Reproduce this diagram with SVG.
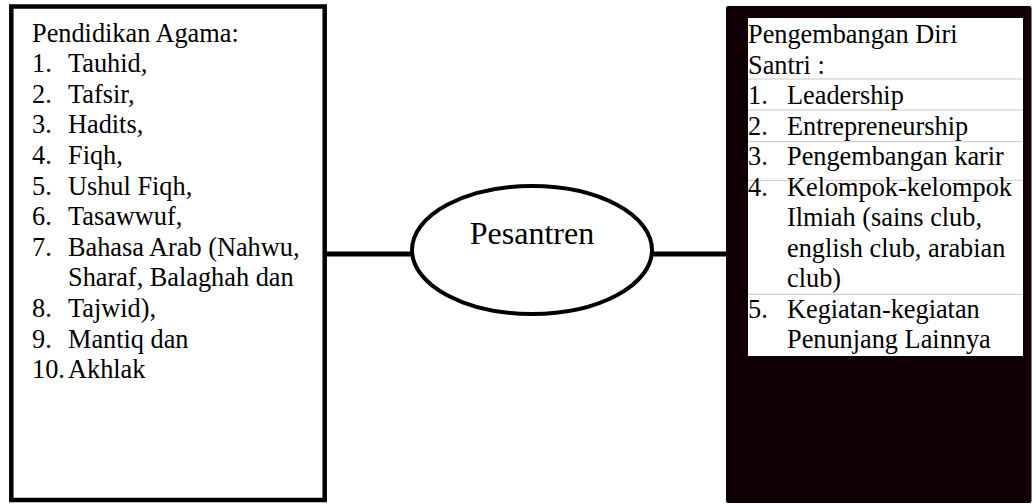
<svg xmlns="http://www.w3.org/2000/svg" width="1032" height="504" viewBox="0 0 1032 504">
<style>
.t{font-family:"Liberation Serif","Times New Roman",serif;font-size:26.3px;fill:#000}
.sep{stroke:#c8c8c8;stroke-width:1}
</style>
<rect width="1032" height="504" fill="#fff"/>
<g id="connectors" stroke="#000" stroke-width="5" fill="none">
<line x1="326" y1="254" x2="411" y2="254"/>
<line x1="653" y1="254" x2="727" y2="254"/>
</g>
<g id="pendidikan-agama">
<rect x="11.3" y="6.5" width="313.4" height="493.5" fill="#fff" stroke="#000" stroke-width="4.5"/>
<text class="t" x="32" y="41.5">Pendidikan Agama:</text>
<text class="t" x="32" y="72.1">1.</text><text class="t" x="68" y="72.1">Tauhid,</text>
<text class="t" x="32" y="102.7">2.</text><text class="t" x="68" y="102.7">Tafsir,</text>
<text class="t" x="32" y="133.3">3.</text><text class="t" x="68" y="133.3">Hadits,</text>
<text class="t" x="32" y="163.9">4.</text><text class="t" x="68" y="163.9">Fiqh,</text>
<text class="t" x="32" y="194.5">5.</text><text class="t" x="68" y="194.5">Ushul Fiqh,</text>
<text class="t" x="32" y="225.1">6.</text><text class="t" x="68" y="225.1">Tasawwuf,</text>
<text class="t" x="32" y="255.7">7.</text><text class="t" x="68" y="255.7">Bahasa Arab (Nahwu,</text>
<text class="t" x="68" y="286.3">Sharaf, Balaghah dan</text>
<text class="t" x="32" y="316.9">8.</text><text class="t" x="68" y="316.9">Tajwid),</text>
<text class="t" x="32" y="347.5">9.</text><text class="t" x="68" y="347.5">Mantiq dan</text>
<text class="t" x="32" y="378.1">10.</text><text class="t" x="68" y="378.1">Akhlak</text>
</g>
<g id="pesantren">
<ellipse cx="532" cy="250" rx="120" ry="64" fill="#fff" stroke="#000" stroke-width="4"/>
<text x="532" y="244" text-anchor="middle" style="font-family:'Liberation Serif','Times New Roman',serif;font-size:32px;fill:#000">Pesantren</text>
</g>
<g id="pengembangan-diri">
<rect x="726" y="6" width="305.5" height="497" rx="2" fill="#110003"/>
<rect x="748" y="18" width="275" height="338" fill="#fff"/>
<line class="sep" x1="748" y1="79" x2="1023" y2="79"/>
<line class="sep" x1="748" y1="110" x2="1023" y2="110"/>
<line class="sep" x1="748" y1="141.7" x2="1023" y2="141.7"/>
<line class="sep" x1="748" y1="180.3" x2="1023" y2="180.3"/>
<line class="sep" x1="748" y1="294.3" x2="1023" y2="294.3"/>
<text class="t" x="748" y="43">Pengembangan Diri</text>
<text class="t" x="748" y="73.5">Santri :</text>
<text class="t" x="748" y="104">1.</text><text class="t" x="787" y="104">Leadership</text>
<text class="t" x="748" y="134.5">2.</text><text class="t" x="787" y="134.5">Entrepreneurship</text>
<text class="t" x="748" y="165">3.</text><text class="t" x="787" y="165">Pengembangan karir</text>
<text class="t" x="748" y="195.5">4.</text><text class="t" x="787" y="195.5">Kelompok-kelompok</text>
<text class="t" x="787" y="226">Ilmiah (sains club,</text>
<text class="t" x="787" y="256.5">english club, arabian</text>
<text class="t" x="787" y="287">club)</text>
<text class="t" x="748" y="317.5">5.</text><text class="t" x="787" y="317.5">Kegiatan-kegiatan</text>
<text class="t" x="787" y="348">Penunjang Lainnya</text>
</g>
</svg>
